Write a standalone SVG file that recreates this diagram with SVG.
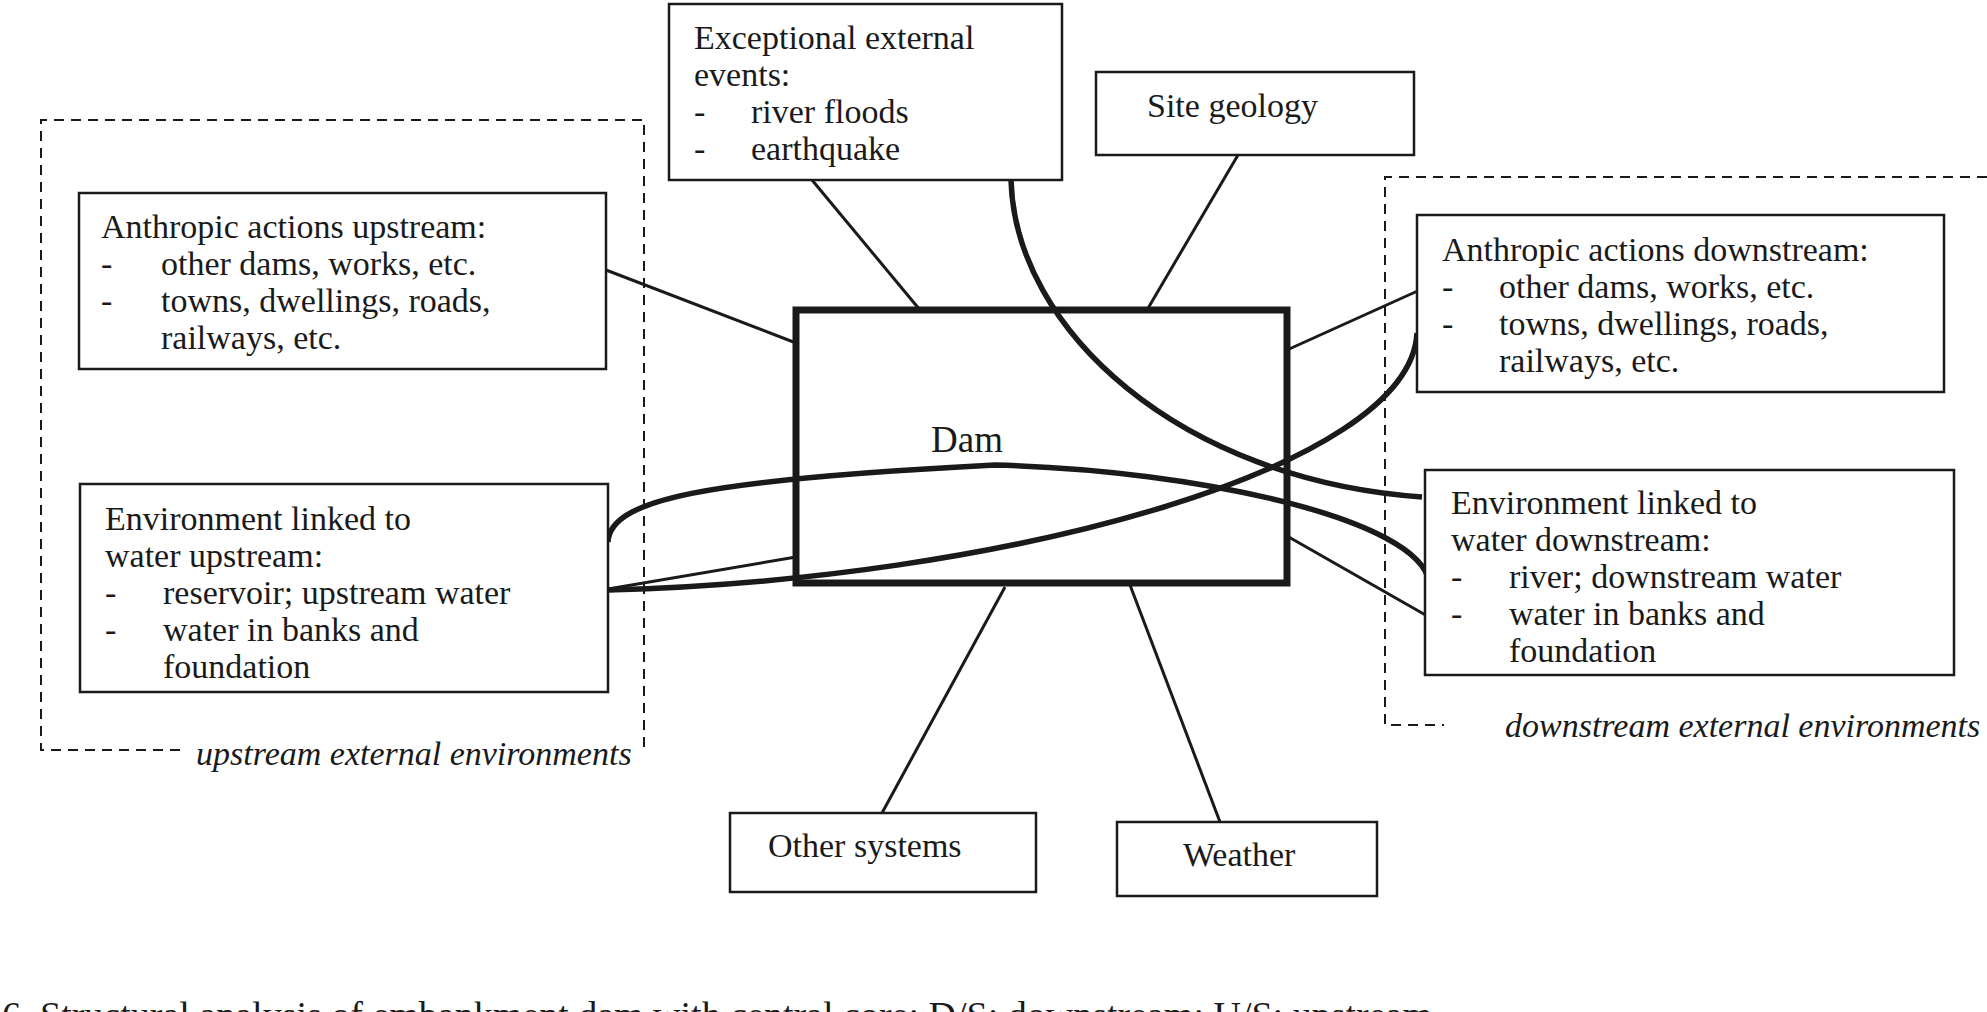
<svg xmlns="http://www.w3.org/2000/svg" width="1987" height="1012" viewBox="0 0 1987 1012">
<style>
text{font-family:"Liberation Serif","Times New Roman",serif;font-size:34px;fill:#1a1a1a}
.it{font-style:italic}
.box{fill:#fff;stroke:#1a1a1a;stroke-width:2.5}
.dash{fill:none;stroke:#1a1a1a;stroke-width:2;stroke-dasharray:10,7}
.thin{fill:none;stroke:#1a1a1a;stroke-width:3}
.thick{fill:none;stroke:#1a1a1a;stroke-width:5.5}
</style>
<rect width="1987" height="1012" fill="#fff"/>
<g id="regions">
<path class="dash" d="M180,750 H41 V120 H644 V750"/>
<text class="it" x="196" y="765">upstream external environments</text>
<path class="dash" d="M1987,177 H1385 V725 H1444"/>
<text class="it" x="1505" y="737">downstream external environments</text>
</g>
<g id="connectors">
<line class="thin" x1="812" y1="180" x2="920" y2="310"/>
<line class="thin" x1="1238" y1="155" x2="1147" y2="310"/>
<line class="thin" x1="606" y1="270" x2="796" y2="343"/>
<line class="thin" x1="608" y1="589" x2="796" y2="557"/>
<line class="thin" x1="1287" y1="350" x2="1422" y2="289"/>
<line class="thin" x1="1287" y1="536" x2="1429" y2="617"/>
<line class="thin" x1="1005" y1="587" x2="882" y2="813"/>
<line class="thin" x1="1130" y1="585" x2="1220" y2="822"/>
<path class="thick" d="M1011,180 C1015,330 1180,480 1422,497"/>
<path class="thick" d="M608,542 C610,500 700,480 995,465 C1200,470 1420,520 1429,582"/>
<path class="thick" d="M608,590 C1000,580 1410,470 1417,333"/>
</g>
<g id="dam">
<rect x="796" y="310" width="491" height="273" fill="none" stroke="#1a1a1a" stroke-width="7"/>
<text x="931" y="452" style="font-size:37px">Dam</text>
</g>
<g id="exceptional">
<rect class="box" x="669" y="4" width="393" height="176"/>
<text x="694" y="49">Exceptional external</text>
<text x="694" y="86">events:</text>
<text x="694" y="123">-</text><text x="751" y="123">river floods</text>
<text x="694" y="160">-</text><text x="751" y="160">earthquake</text>
</g>
<g id="geology">
<rect class="box" x="1096" y="72" width="318" height="83"/>
<text x="1147" y="117">Site geology</text>
</g>
<g id="anthropic-up">
<rect class="box" x="79" y="193" width="527" height="176"/>
<text x="101" y="238">Anthropic actions upstream:</text>
<text x="101" y="275">-</text><text x="161" y="275">other dams, works,  etc.</text>
<text x="101" y="312">-</text><text x="161" y="312">towns, dwellings, roads,</text>
<text x="161" y="349">railways, etc.</text>
</g>
<g id="env-up">
<rect class="box" x="80" y="484" width="528" height="208"/>
<text x="105" y="530">Environment linked to</text>
<text x="105" y="567">water upstream:</text>
<text x="105" y="604">-</text><text x="163" y="604">reservoir; upstream water</text>
<text x="105" y="641">-</text><text x="163" y="641">water in banks and</text>
<text x="163" y="678">foundation</text>
</g>
<g id="anthropic-down">
<rect class="box" x="1417" y="215" width="527" height="177"/>
<text x="1442" y="261">Anthropic actions downstream:</text>
<text x="1442" y="298">-</text><text x="1499" y="298">other dams, works, etc.</text>
<text x="1442" y="335">-</text><text x="1499" y="335">towns, dwellings, roads,</text>
<text x="1499" y="372">railways, etc.</text>
</g>
<g id="env-down">
<rect class="box" x="1425" y="470" width="529" height="205"/>
<text x="1451" y="514">Environment linked to</text>
<text x="1451" y="551">water downstream:</text>
<text x="1451" y="588">-</text><text x="1509" y="588">river; downstream water</text>
<text x="1451" y="625">-</text><text x="1509" y="625">water in banks and</text>
<text x="1509" y="662">foundation</text>
</g>
<g id="other">
<rect class="box" x="730" y="813" width="306" height="79"/>
<text x="768" y="857">Other systems</text>
</g>
<g id="weather">
<rect class="box" x="1117" y="822" width="260" height="74"/>
<text x="1183" y="866">Weather</text>
</g>
<text x="2" y="1028" style="font-size:38px">6. Structural analysis of embankment dam with central core; D/S: downstream; U/S: upstream</text>
</svg>
